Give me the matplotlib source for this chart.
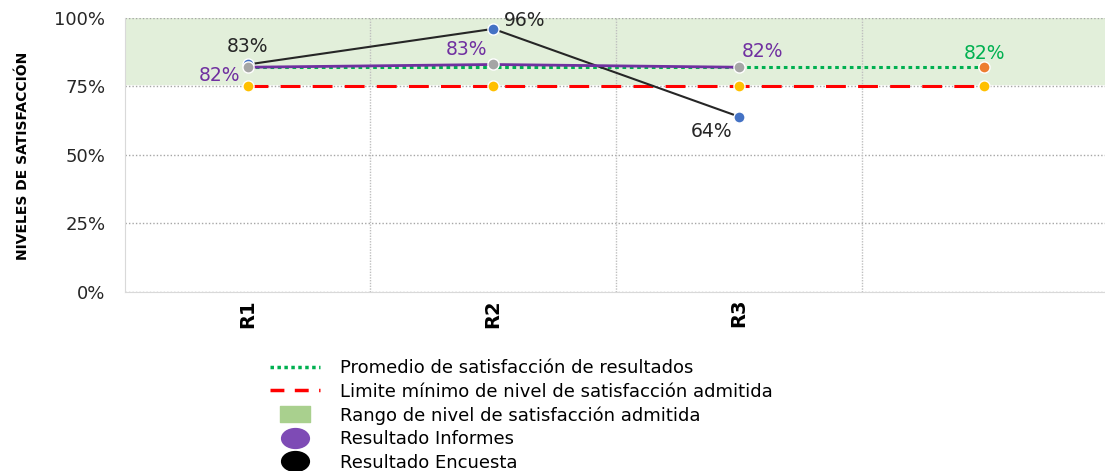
import matplotlib.pyplot as plt
import numpy as np
from matplotlib.lines import Line2D
from matplotlib.markers import MarkerStyle
from matplotlib.path import Path
from matplotlib.transforms import Affine2D

plt.rcParams['font.family'] = ['DejaVu Sans']

categorias = ["R1", "R2", "R3", ""]
encuesta = [0.83, 0.96, 0.64]
informes = [0.82, 0.83, 0.82]
promedio = [0.82, 0.82, 0.82, 0.82]
limite = [0.75, 0.75, 0.75, 0.75]
rango = (0.76, 1.0)

x = np.arange(len(categorias))

fig = plt.figure(figsize=(11.05, 4.71), dpi=100)
ax = fig.add_axes([0.113, 0.38, 0.889, 0.582])

ax.set_xlim(-0.5, 3.5)
ax.set_ylim(0, 1)

# banda verde
ax.axhspan(rango[0], rango[1], color="#E2EFDA", zorder=0)

# grid punteado
for v in [0, 0.25, 0.5, 0.75, 1.0]:
    ax.axhline(v, color="#A6A6A6", ls=(0, (1, 1.5)), lw=1, zorder=1)
for b in [0.5, 1.5, 2.5]:
    ax.axvline(b, color="#BFBFBF", ls=(0, (1, 1)), lw=1, zorder=1)

# limite minimo
ax.plot(x, limite, color="#FF0000", ls=(0, (6.5, 4)), lw=2.2, zorder=3)
ax.plot(x, limite, ls="none", marker="o", ms=8, color="#FFC000",
        mec="white", mew=1, zorder=6)

# promedio
ax.plot(x, promedio, color="#00B050", ls=(0, (1.2, 1.2)), lw=2.2, zorder=3)
ax.plot(x[-1], promedio[-1], marker="o", ms=8, color="#ED7D31",
        mec="white", mew=1, zorder=6)

# encuesta
ax.plot(x[:3], encuesta, color="#262626", lw=1.5, marker="o", ms=8,
        mfc="#4472C4", mec="white", mew=1, zorder=5)

# informes
ax.plot(x[:3], informes, color="#7030A0", lw=2, marker="o", ms=8,
        mfc="#A5A5A5", mec="white", mew=1, zorder=6)

fs = 13.5
purple = "#7030A0"
# etiquetas encuesta
ax.annotate(f"{encuesta[0]:.0%}", (x[0], encuesta[0]), xytext=(0, 13),
            textcoords="offset points", ha="center", va="center", fontsize=fs, color="#262626")
ax.annotate(f"{encuesta[1]:.0%}", (x[1], encuesta[1]), xytext=(8, 6),
            textcoords="offset points", ha="left", va="center", fontsize=fs, color="#262626")
ax.annotate(f"{encuesta[2]:.0%}", (x[2], encuesta[2]), xytext=(-5, -11),
            textcoords="offset points", ha="right", va="center", fontsize=fs, color="#262626")
# etiquetas informes
ax.annotate(f"{informes[0]:.0%}", (x[0], informes[0]), xytext=(-5, -6),
            textcoords="offset points", ha="right", va="center", fontsize=fs, color=purple)
ax.annotate(f"{informes[1]:.0%}", (x[1], informes[1]), xytext=(-4, 11),
            textcoords="offset points", ha="right", va="center", fontsize=fs, color=purple)
ax.annotate(f"{informes[2]:.0%}", (x[2], informes[2]), xytext=(2, 11),
            textcoords="offset points", ha="left", va="center", fontsize=fs, color=purple)
ax.annotate(f"{promedio[-1]:.0%}", (x[-1], promedio[-1]), xytext=(0, 10),
            textcoords="offset points", ha="center", va="center", fontsize=fs, color="#00B050")

ax.set_xticks(x)
ax.set_xticklabels(categorias, rotation=90, fontweight="bold", fontsize=14)
ax.set_yticks([0, 0.25, 0.5, 0.75, 1.0])
ax.set_yticklabels(["0%", "25%", "50%", "75%", "100%"], fontsize=13, color="#262626")
ax.tick_params(length=0, pad=14)
ax.tick_params(axis="x", pad=5)
for s in ["top", "right"]:
    ax.spines[s].set_visible(False)
ax.spines["left"].set_color("#D9D9D9")
ax.spines["bottom"].set_color("#D9D9D9")

fig.text(0.021, 0.669, "NIVELES DE SATISFACCIÓN", rotation=90, ha="center", va="center",
         fontsize=10, fontweight="bold", family=["Liberation Sans Narrow", "DejaVu Sans"])

# leyenda
elipse = MarkerStyle(Path.unit_circle().transformed(Affine2D().scale(1.4, 1)))
rect = MarkerStyle(Path.unit_rectangle().transformed(Affine2D().translate(-0.5, -0.5).scale(2, 1)))
handles = [
    Line2D([], [], color="#00B050", ls=(0, (1, 1)), lw=2.5),
    Line2D([], [], color="#FF0000", ls=(0, (4, 3)), lw=2.5),
    Line2D([], [], ls="none", marker=rect, ms=22, color="#A9D08E"),
    Line2D([], [], ls="none", marker=elipse, ms=20, color="#7E4BB5"),
    Line2D([], [], ls="none", marker=elipse, ms=20, color="black"),
]
labels = [
    "Promedio de satisfacción de resultados",
    "Limite mínimo de nivel de satisfacción admitida",
    "Rango de nivel de satisfacción admitida",
    "Resultado Informes",
    "Resultado Encuesta",
]
fig.legend(handles, labels, loc="upper left", bbox_to_anchor=(0.244, 0.237),
           frameon=False, fontsize=13, handlelength=2.8, handletextpad=1.1,
           labelspacing=0.3, borderaxespad=0, borderpad=0)

fig.savefig("out.png", dpi=100)
